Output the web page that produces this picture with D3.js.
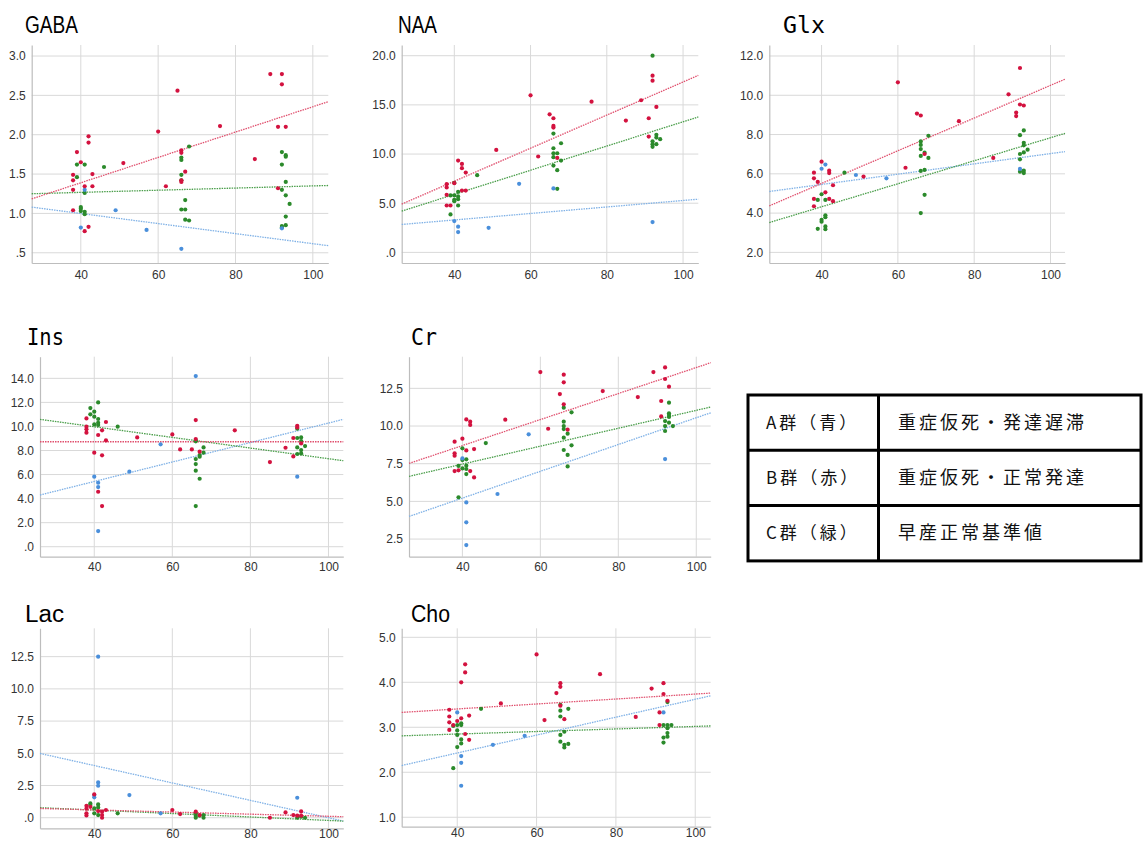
<!DOCTYPE html>
<html>
<head>
<meta charset="utf-8">
<script src="https://cdn.jsdelivr.net/npm/d3@7"></script>
<style>
  body { margin: 0; background: #fff; }
  svg text { font-family: "Liberation Sans", Arial, sans-serif; }
</style>
</head>
<body>
<svg id="chart" width="1143" height="842"></svg>
<script>
// group colours: A blue, B red, C green
var dotColor = { A: "#4a8fdb", B: "#d3123f", C: "#2b8a2b" };
var lineColor = { A: "#7fb1e6", B: "#e0506e", C: "#4a9e4a" };

var xTicks = [40, 60, 80, 100];

// ---- GABA ----
var gabaTicks = [0.5, 1.0, 1.5, 2.0, 2.5, 3.0];
var gabaA = [[41,1.30],[40,0.82],[49,1.04],[57,0.79],[66,0.55],[92,0.81]];
var gabaB = [[39,1.78],[42,1.98],[42,1.90],[40,1.65],[38,1.49],[38,1.42],[38,1.30],[41,1.345],[43,1.345],[43,1.50],
  [38,1.04],[42,0.83],[41,0.775],[51,1.64],[60,2.04],[62,1.345],[65,2.56],[66,1.80],[66,1.77],[66,1.42],[66,1.40],
  [67,1.53],[76,2.11],[85,1.69],[89,2.77],[92,2.77],[92,2.64],[91,2.10],[93,2.10],[91,1.32]];
var gabaC = [[39,1.62],[39,1.46],[41,1.62],[46,1.59],[40,1.08],[40,1.06],[40,1.03],[41,1.02],[41,0.99],[41,1.26],
  [66,1.68],[66,1.71],[66,1.49],[66,1.42],[68,1.85],[67,1.17],[66,1.05],[67,1.05],[67,0.92],[68,0.91],
  [92,1.78],[93,1.74],[93,1.72],[92,1.62],[93,1.40],[92,1.30],[93,1.23],[94,1.12],[93,0.96],[92,0.84],[93,0.85],[92,0.82]];
var gabaFit = { A: [1.08, 0.59], B: [1.185, 2.42], C: [1.25, 1.355] };

// ---- NAA ----
var naaTicks = [0, 5, 10, 15, 20];
var naaA = [[57,6.97],[66,6.50],[40,3.18],[41,2.61],[41,2.06],[49,2.50],[92,3.08]];
var naaB = [[38,6.94],[38,6.60],[38,5.85],[38,4.77],[39,4.77],[40,7.04],[41,9.34],[42,9.0],[42,8.56],[43,8.12],
  [42,6.29],[43,6.29],[51,10.42],[60,15.97],[62,9.75],[65,14.04],[66,13.64],[66,12.86],[66,12.69],[67,9.61],
  [76,15.33],[85,13.40],[89,15.47],[92,17.97],[92,17.46],[93,14.79],[91,13.64],[91,11.78]];
var naaC = [[39,5.79],[40,5.79],[40,7.07],[39,3.86],[40,5.21],[40,5.35],[41,6.16],[41,5.69],[41,5.41],[41,4.77],
  [46,7.85],[66,12.08],[66,10.59],[66,10.08],[66,9.68],[67,10.08],[68,11.10],[68,9.34],[66,8.83],[67,8.36],[67,6.46],
  [92,20.0],[93,11.95],[93,11.68],[94,11.51],[92,11.30],[92,11.0],[93,11.0],[92,10.73]];
var naaFit = { A: [2.84, 5.41], B: [4.91, 18.0], C: [4.20, 13.77] };

// ---- Glx ----
var glxTicks = [2, 4, 6, 8, 10, 12];
var glxA = [[40,6.26],[41,6.47],[49,5.94],[57,5.77],[92,6.25]];
var glxB = [[38,6.06],[38,5.77],[39,5.59],[40,6.62],[42,6.16],[42,6.04],[43,5.42],[38,4.72],[38,4.35],[41,5.06],
  [42,4.72],[43,4.61],[51,5.86],[60,10.66],[62,6.31],[65,9.07],[66,8.97],[67,7.01],[76,8.68],[85,6.81],
  [89,10.05],[92,11.39],[92,9.53],[93,9.48],[91,9.12],[91,8.94]];
var glxC = [[39,4.67],[40,4.96],[41,4.67],[41,3.89],[41,3.79],[40,3.66],[40,3.56],[39,3.20],[41,3.32],[41,3.18],
  [46,6.06],[66,7.65],[66,7.47],[66,7.26],[66,6.91],[67,7.08],[68,7.94],[68,6.81],[67,6.20],[66,6.15],[67,4.93],[66,4.0],
  [93,8.21],[92,7.97],[93,7.58],[93,7.45],[94,7.23],[93,7.09],[92,7.01],[92,6.74],[92,6.11],[93,6.16],[93,6.04]];
var glxFit = { A: [5.10, 7.13], B: [4.37, 10.82], C: [3.52, 8.06] };

// ---- Ins ----
var insTicks = [0, 2, 4, 6, 8, 10, 12, 14];
var insA = [[66,14.19],[57,8.51],[49,6.24],[40,5.82],[41,5.32],[41,4.96],[41,1.30],[92,5.82]];
var insB = [[38,10.67],[38,9.98],[38,9.76],[38,9.48],[43,10.37],[42,9.68],[41,9.29],[43,8.84],[40,7.82],[42,7.60],
  [41,4.57],[42,3.38],[51,9.09],[60,9.34],[62,8.09],[65,8.09],[66,10.53],[66,8.95],[67,7.90],[76,9.68],[85,7.04],
  [89,8.23],[91,9.04],[92,10.06],[92,9.92],[91,7.51],[93,8.59]];
var insC = [[39,11.53],[39,11.01],[40,11.23],[40,10.81],[41,12.0],[41,10.62],[41,10.31],[41,10.12],[40,10.17],[46,9.98],
  [66,8.84],[66,8.76],[68,8.26],[68,7.82],[67,7.62],[67,7.48],[66,7.29],[66,6.87],[66,6.32],[67,5.65],[66,3.38],
  [92,9.81],[92,9.04],[93,9.09],[93,8.79],[94,8.37],[92,8.26],[93,8.04],[93,7.76],[92,7.71]];
var insFit = { A: [4.30, 10.59], B: [8.73, 8.73], C: [10.59, 7.15] };

// ---- Cr ----
var crTicks = [2.5, 5.0, 7.5, 10.0, 12.5];
var crA = [[57,9.45],[40,7.85],[49,5.49],[41,4.93],[41,3.61],[41,2.10],[92,7.81]];
var crB = [[38,8.96],[38,8.19],[38,8.03],[38,7.01],[39,7.06],[40,9.16],[41,10.44],[42,10.29],[42,10.07],[41,8.38],
  [43,8.47],[42,7.01],[43,6.59],[51,10.42],[60,13.58],[62,9.82],[65,12.12],[66,13.41],[66,12.90],[66,11.44],[67,9.76],
  [76,12.32],[85,11.92],[89,13.58],[92,13.89],[92,13.12],[93,12.61],[91,11.66],[91,10.64]];
var crC = [[39,5.27],[40,8.52],[41,7.79],[40,7.74],[39,7.35],[40,7.19],[41,7.37],[41,7.15],[41,6.81],[46,8.87],
  [66,11.22],[66,10.29],[66,10.0],[66,9.80],[67,9.49],[68,10.91],[66,9.23],[68,8.72],[66,8.41],[67,8.08],[67,7.32],
  [93,11.55],[93,10.84],[93,10.73],[93,10.60],[92,10.33],[93,10.22],[94,10.0],[92,10.0],[92,9.67]];
var crFit = { A: [4.0, 10.88], B: [7.52, 14.20], C: [6.66, 11.26] };

// ---- Lac ----
var lacTicks = [0, 2.5, 5.0, 7.5, 10.0, 12.5];
var lacA = [[41,12.5],[41,2.74],[41,2.48],[40,1.76],[40,1.58],[49,1.76],[57,0.34],[92,1.55]];
var lacB = [[38,0.93],[38,0.70],[38,0.34],[38,0.18],[39,0.85],[40,1.81],[41,0.52],[42,0.47],[42,0.21],[42,0.0],
  [43,0.60],[60,0.60],[62,0.28],[66,0.47],[67,0.21],[85,0.0],[89,0.41],[91,0.21],[92,0.16],[93,0.49],[93,0.16]];
var lacC = [[39,1.11],[39,0.98],[40,0.72],[40,0.34],[41,1.03],[41,0.80],[41,0.21],[46,0.34],[66,0.34],[66,0.13],
  [66,0.0],[67,0.16],[68,0.21],[68,0.0],[92,0.0],[93,0.08],[94,0.0]];
var lacFit = { A: [4.99, -0.26], B: [0.72, 0.08], C: [0.78, -0.26] };

// ---- Cho ----
var choTicks = [1, 2, 3, 4, 5];
var choA = [[40,3.33],[57,2.81],[49,2.61],[41,2.36],[41,2.21],[41,1.70],[92,3.33]];
var choB = [[38,3.39],[38,3.24],[38,3.11],[38,2.94],[39,3.05],[40,3.14],[41,4.0],[42,4.40],[42,4.22],[41,3.20],
  [43,3.26],[42,2.85],[43,2.72],[51,3.53],[60,4.62],[62,3.16],[65,3.76],[66,3.98],[66,3.90],[66,3.48],[67,3.18],
  [76,4.18],[85,3.23],[89,3.86],[92,3.98],[92,3.74],[93,3.59],[91,3.33],[91,3.05]];
var choC = [[39,3.03],[40,3.05],[40,2.93],[40,2.83],[41,3.09],[41,3.05],[41,2.73],[41,2.64],[40,2.56],[39,2.09],
  [46,3.41],[66,3.50],[66,3.37],[66,3.24],[68,3.41],[67,2.90],[66,2.83],[66,2.68],[67,2.61],[67,2.55],[68,2.63],
  [93,3.56],[92,3.05],[93,3.05],[94,3.05],[93,2.98],[93,2.87],[93,2.79],[92,2.77],[92,2.66]];
var choFit = { A: [2.15, 3.70], B: [3.33, 3.76], C: [2.81, 3.03] };

// legend rows
var legendGroups = ["A群（青）", "B群（赤）", "C群（緑）"];
var legendDesc = ["重症仮死・発達遅滞", "重症仮死・正常発達", "早産正常基準値"];

// panel layout (pixel boxes + axis ranges), tw = title width
var panels = [
  { title: "GABA", mono: false, A: gabaA, B: gabaB, C: gabaC, fit: gabaFit, ticks: gabaTicks,
    box: [31.7, 45, 328.3, 263], xd: [27.3, 104], yd: [0.37, 3.14], tx: 25, ty: 33, tw: 53, xpad: 7 },
  { title: "NAA", mono: false, A: naaA, B: naaB, C: naaC, fit: naaFit, ticks: naaTicks,
    box: [401.7, 45, 698.3, 263], xd: [26.2, 104], yd: [-1.08, 21.09], tx: 398, ty: 33, tw: 39, xpad: 7 },
  { title: "Glx", mono: true, A: glxA, B: glxB, C: glxC, fit: glxFit, ticks: glxTicks,
    box: [769.3, 45, 1065, 263], xd: [26.3, 103.8], yd: [1.46, 12.56], tx: 783, ty: 33, tw: 42, xpad: 7 },
  { title: "Ins", mono: true, A: insA, B: insB, C: insC, fit: insFit, ticks: insTicks,
    box: [40, 356.7, 343.3, 556.7], xd: [26.1, 103.8], yd: [-0.83, 15.8], tx: 27, ty: 345, tw: 37, xpad: 6 },
  { title: "Cr", mono: true, A: crA, B: crB, C: crC, fit: crFit, ticks: crTicks,
    box: [409, 356.7, 710.7, 556.7], xd: [26.3, 103.7], yd: [1.33, 14.6], tx: 411, ty: 345, tw: 26, xpad: 6 },
  { title: "Lac", mono: false, A: lacA, B: lacB, C: lacC, fit: lacFit, ticks: lacTicks,
    box: [40, 628.3, 343.3, 828.3], xd: [26.1, 103.8], yd: [-0.82, 14.7], tx: 25, ty: 622, tw: 39, xpad: 1 },
  { title: "Cho", mono: false, A: choA, B: choB, C: choC, fit: choFit, ticks: choTicks,
    box: [401.7, 628.3, 710.7, 826.7], xd: [26.0, 103.9], yd: [0.79, 5.2], tx: 411, ty: 622, tw: 39, xpad: 2 }
];

var svg = d3.select("#chart");

function fmt(v) {
  var s = d3.format(".1f")(v);
  return s.replace(/^0\./, ".").replace(/^-0\./, "-.");
}

panels.forEach(function(p) {
  var x = d3.scaleLinear().domain(p.xd).range([p.box[0], p.box[2]]);
  var y = d3.scaleLinear().domain(p.yd).range([p.box[3], p.box[1]]);
  var g = svg.append("g");

  // grid
  g.selectAll(".hg").data(p.ticks).enter().append("line")
    .attr("x1", p.box[0]).attr("x2", p.box[2])
    .attr("y1", d => y(d)).attr("y2", d => y(d))
    .attr("stroke", "#d9d9d9").attr("stroke-width", 1);
  g.selectAll(".vg").data(xTicks).enter().append("line")
    .attr("x1", d => x(d)).attr("x2", d => x(d))
    .attr("y1", p.box[1]).attr("y2", p.box[3])
    .attr("stroke", "#d9d9d9").attr("stroke-width", 1);

  // axes
  var yAxis = d3.axisLeft(y).tickValues(p.ticks).tickFormat(fmt).tickSize(0).tickPadding(6);
  var xAxis = d3.axisBottom(x).tickValues(xTicks).tickFormat(d3.format("d")).tickSize(0).tickPadding(p.xpad);
  var ya = g.append("g").attr("transform", "translate(" + p.box[0] + ",0)").call(yAxis);
  var xa = g.append("g").attr("transform", "translate(0," + p.box[3] + ")").call(xAxis);
  [ya, xa].forEach(function(a) {
    a.select(".domain").attr("stroke", "#bdbdbd").attr("stroke-width", 1.2);
    a.selectAll("text").attr("fill", "#333").style("font-size", "12px")
      .style("font-family", "'Liberation Sans', Arial, sans-serif");
  });

  // fit lines
  ["A", "C", "B"].forEach(function(k) {
    g.append("line")
      .attr("x1", x(p.xd[0])).attr("y1", y(p.fit[k][0]))
      .attr("x2", x(p.xd[1])).attr("y2", y(p.fit[k][1]))
      .attr("stroke", lineColor[k]).attr("stroke-width", 1.3)
      .attr("stroke-dasharray", "1.5,1");
  });

  // points
  ["C", "A", "B"].forEach(function(k) {
    g.selectAll(".pt" + k).data(p[k]).enter().append("circle")
      .attr("cx", d => x(d[0])).attr("cy", d => y(d[1]))
      .attr("r", 2.1).attr("fill", dotColor[k]);
  });

  g.append("text")
    .attr("x", p.tx).attr("y", p.ty)
    .style("font-family", p.mono ? "'DejaVu Sans Mono', monospace" : "'Liberation Sans', Arial, sans-serif")
    .style("font-size", "23px")
    .attr("textLength", p.tw).attr("lengthAdjust", "spacingAndGlyphs")
    .attr("fill", "#000")
    .text(p.title);
});

// legend table
var lg = svg.append("g");
var lx0 = 748, lx1 = 878.5, lx2 = 1141, ly0 = 395, rowH = 55.3;
lg.append("rect").attr("x", lx0).attr("y", ly0).attr("width", lx2 - lx0).attr("height", rowH * 3)
  .attr("fill", "none").attr("stroke", "#000").attr("stroke-width", 3);
lg.append("line").attr("x1", lx1).attr("x2", lx1).attr("y1", ly0).attr("y2", ly0 + rowH * 3)
  .attr("stroke", "#000").attr("stroke-width", 3);
[1, 2].forEach(function(i) {
  lg.append("line").attr("x1", lx0).attr("x2", lx2).attr("y1", ly0 + rowH * i).attr("y2", ly0 + rowH * i)
    .attr("stroke", "#000").attr("stroke-width", 3);
});
legendGroups.forEach(function(t, i) {
  lg.append("text").attr("x", 766).attr("y", ly0 + rowH * i + rowH / 2 + 6)
    .style("font-family", "'Noto Sans CJK JP', sans-serif").style("font-size", "17px")
    .style("letter-spacing", "3px")
    .attr("fill", "#111").text(t);
});
legendDesc.forEach(function(t, i) {
  lg.append("text").attr("x", 898).attr("y", ly0 + rowH * i + rowH / 2 + 6)
    .style("font-family", "'Noto Sans CJK JP', sans-serif").style("font-size", "18px")
    .style("letter-spacing", "3px")
    .attr("fill", "#111").text(t);
});
</script>
</body>
</html>
